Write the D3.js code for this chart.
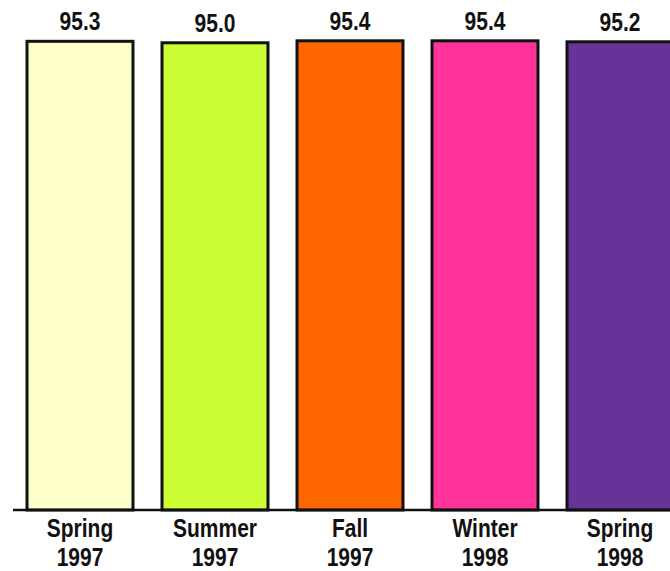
<!DOCTYPE html>
<html>
<head>
<meta charset="utf-8">
<script src="https://cdn.jsdelivr.net/npm/d3@7"></script>
<style>
  body { margin: 0; background: #fff; }
  svg { display: block; }
  text { font-family: "Liberation Sans", Arial, sans-serif; font-weight: bold; fill: #111; }
</style>
</head>
<body>
<svg width="670" height="571"></svg>
<script>
var seasons = ["Spring", "Summer", "Fall", "Winter", "Spring"];
var years = ["1997", "1997", "1997", "1998", "1998"];
var values = [95.3, 95.0, 95.4, 95.4, 95.2];
var colors = ["#FFFFCC", "#CCFF33", "#FF6600", "#FF3399", "#663399"];

var svg = d3.select("svg");
var baseY = 510;
var squeeze = 0.84; // narrow type, like a condensed face

var keys = d3.range(values.length);

var x = d3.scaleBand()
    .domain(keys)
    .range([12.5, 687.5])
    .paddingInner(0.215)
    .paddingOuter(0.1075);

var y = d3.scaleLinear()
    .domain([0, 103.7])
    .range([baseY, 0]);

function mid(i) { return x(i) + x.bandwidth() / 2; }

// bars
svg.selectAll("rect.bar")
    .data(keys)
  .enter().append("rect")
    .attr("class", "bar")
    .attr("x", function(i) { return x(i); })
    .attr("y", function(i) { return y(values[i]); })
    .attr("width", x.bandwidth())
    .attr("height", function(i) { return baseY - y(values[i]); })
    .attr("fill", function(i) { return colors[i]; })
    .attr("stroke", "#111")
    .attr("stroke-width", 3);

// baseline
svg.append("line")
    .attr("x1", 13)
    .attr("x2", 670)
    .attr("y1", baseY)
    .attr("y2", baseY)
    .attr("stroke", "#111")
    .attr("stroke-width", 2.5);

// value labels
svg.selectAll("text.val")
    .data(keys)
  .enter().append("text")
    .attr("class", "val")
    .attr("transform", function(i) {
      return "translate(" + mid(i) + "," + (y(values[i]) - 11) + ") scale(" + squeeze + ",1)";
    })
    .attr("text-anchor", "middle")
    .style("font-size", "25px")
    .text(function(i) { return values[i].toFixed(1); });

// category labels
var cat = svg.selectAll("text.cat")
    .data(keys)
  .enter().append("text")
    .attr("class", "cat")
    .attr("transform", function(i) { return "translate(" + mid(i) + ",537) scale(" + squeeze + ",1)"; })
    .attr("text-anchor", "middle")
    .style("font-size", "25px");

cat.append("tspan")
    .attr("x", 0)
    .attr("y", 0)
    .text(function(i) { return seasons[i]; });

cat.append("tspan")
    .attr("x", 0)
    .attr("y", 29)
    .text(function(i) { return years[i]; });
</script>
</body>
</html>
